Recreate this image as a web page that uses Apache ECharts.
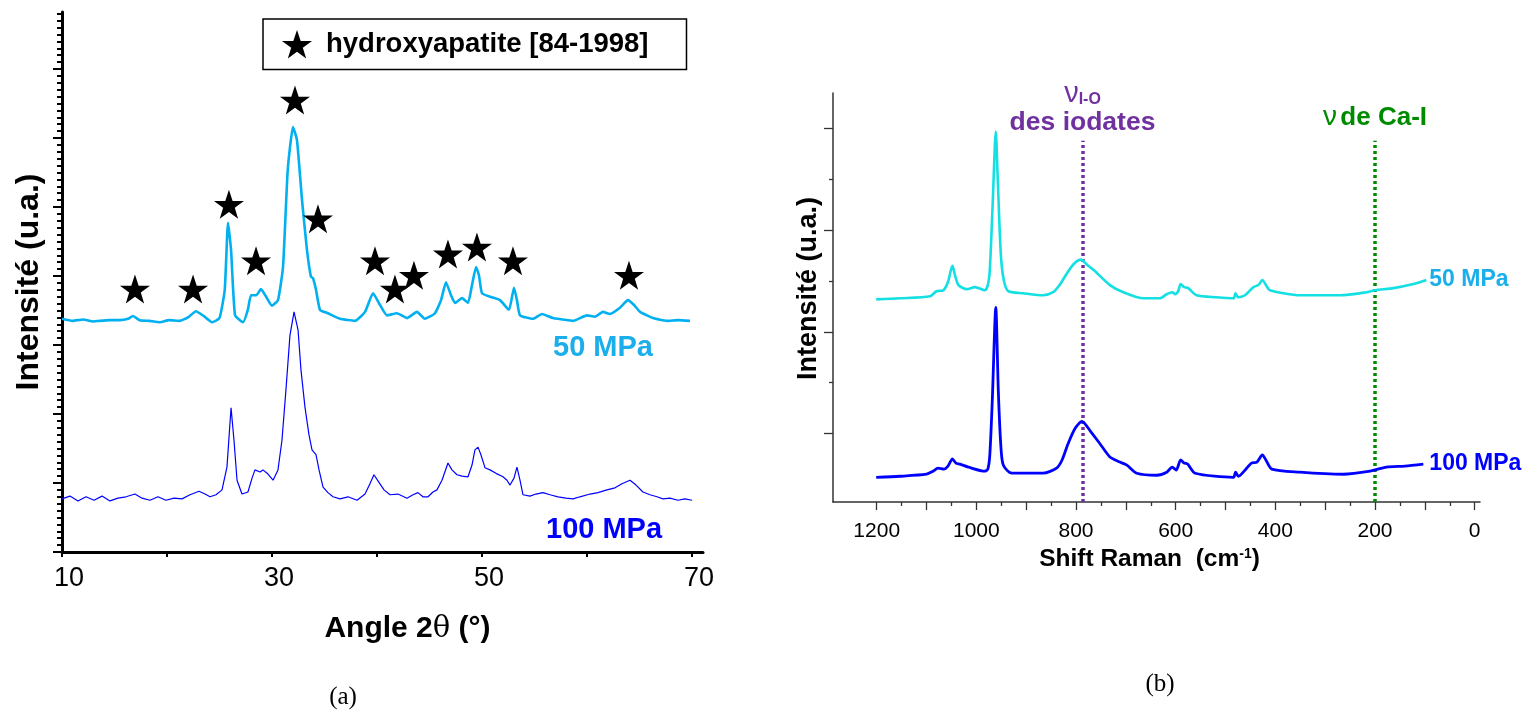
<!DOCTYPE html>
<html><head><meta charset="utf-8">
<script src="https://cdn.jsdelivr.net/npm/echarts@6/dist/echarts.min.js"></script>
<style>html,body{margin:0;padding:0;background:#fff}#c{width:1526px;height:715px}</style>
</head><body><div id="c"></div>
<script>
// ---------- (a) XRD data ----------
const xrd50Angle = [10.0,11.0,12.0,13.0,13.6,14.5,15.5,16.3,16.76,17.4,18.3,19.3,20.2,21.2,22.0,22.76,23.5,24.29,25.0,25.5,25.81,26.1,26.48,27.24,27.7,28.0,28.5,28.95,29.4,30.0,30.57,31.05,31.5,32.0,32.38,32.86,33.33,33.71,33.9,34.19,34.57,35.33,36.48,37.9,38.86,39.62,40.29,40.95,41.9,42.86,43.81,44.57,45.52,46.1,46.57,47.05,47.43,48.1,48.67,49.05,49.43,49.71,50.0,50.76,51.71,52.57,53.05,53.33,53.62,54.86,55.71,56.76,57.7,58.67,60.0,60.76,61.52,62.19,63.14,63.9,64.48,65.05,66.29,67.62,68.7,69.81];
const xrd50Int = [3.38,3.35,3.37,3.34,3.35,3.36,3.36,3.38,3.42,3.36,3.35,3.33,3.36,3.35,3.40,3.49,3.42,3.33,3.39,3.80,4.77,4.38,3.43,3.33,3.51,3.72,3.72,3.81,3.71,3.57,3.65,4.13,5.54,6.16,5.97,5.10,4.38,3.99,3.97,3.80,3.51,3.46,3.38,3.35,3.48,3.75,3.58,3.43,3.46,3.39,3.48,3.38,3.46,3.65,3.91,3.72,3.61,3.68,3.61,3.87,4.13,4.01,3.75,3.70,3.65,3.51,3.83,3.65,3.43,3.38,3.45,3.39,3.37,3.35,3.43,3.41,3.48,3.45,3.54,3.65,3.58,3.48,3.39,3.35,3.36,3.35];
const xrd100Angle = [10.0,10.76,11.52,12.29,13.05,13.81,14.57,15.33,16.1,16.95,17.62,18.38,19.14,19.9,20.67,21.43,22.19,23.05,23.62,24.1,24.67,25.24,25.71,26.1,26.38,26.67,27.14,27.71,28.1,28.38,28.86,29.14,29.62,30.1,30.57,30.95,31.33,31.71,32.1,32.48,32.76,33.14,33.52,33.81,34.19,34.48,34.86,35.33,35.81,36.48,37.24,38.1,38.86,39.33,39.71,40.19,40.67,41.24,42.0,42.86,43.43,43.9,44.38,44.86,45.33,45.71,46.19,46.76,47.14,47.62,48.1,48.67,49.05,49.33,49.62,49.9,50.29,50.76,51.33,52.0,52.38,52.67,53.05,53.33,53.62,53.9,54.57,55.14,55.81,56.48,57.24,58.0,58.67,59.33,60.29,61.05,61.9,62.67,63.33,64.1,64.67,65.33,66.0,66.67,67.24,67.9,68.67,69.33,70.0];
const xrd100Int = [0.77,0.81,0.74,0.80,0.75,0.81,0.74,0.78,0.80,0.84,0.78,0.75,0.80,0.75,0.78,0.77,0.83,0.88,0.84,0.80,0.83,0.90,1.23,2.09,1.62,1.04,0.84,0.87,1.07,1.19,1.16,1.19,1.13,1.04,1.19,1.62,2.35,3.14,3.48,3.22,2.64,2.10,1.70,1.48,1.41,1.19,0.94,0.86,0.80,0.77,0.80,0.75,0.84,0.99,1.12,1.01,0.90,0.83,0.84,0.78,0.83,0.86,0.80,0.80,0.87,0.90,1.04,1.29,1.19,1.12,1.10,1.09,1.26,1.48,1.52,1.41,1.22,1.19,1.14,1.09,1.04,0.97,1.07,1.23,1.04,0.83,0.81,0.84,0.86,0.83,0.80,0.78,0.77,0.80,0.84,0.86,0.90,0.93,0.99,1.04,0.97,0.87,0.83,0.80,0.77,0.78,0.75,0.77,0.75];
const starAngle = [16.95,22.48,25.90,28.48,32.19,34.38,39.81,41.71,43.52,46.76,49.52,52.95,64.0];
const starInt = [3.81,3.81,5.04,4.22,6.55,4.83,4.22,3.81,4.01,4.32,4.42,4.22,4.01];
const xrdTickValues = [10,20,30,40,50,60,70];
const xrdTickLabels = [10,30,50,70];
const xrdYMajor = [0,1,2,3,4,5,6,7];

// ---------- (b) Raman data ----------
const raman50Shift = [1201,1153,1093,1080,1066,1057,1048,1043,1036,1019,1003,983,977,973,967,961,957,951,945,936,906,866,846,833,819,804,790,778,765,732,705,665,651,632,618,607,601,595,590,583,575,558,518,484,480,475,461,444,434,426,419,411,350,270,217,200,163,123,97];
const raman50Int = [2.32,2.33,2.35,2.40,2.41,2.49,2.65,2.56,2.46,2.42,2.44,2.41,2.46,2.61,3.29,3.97,3.49,2.77,2.51,2.40,2.38,2.36,2.39,2.46,2.57,2.67,2.71,2.66,2.61,2.46,2.39,2.33,2.33,2.33,2.37,2.39,2.37,2.40,2.47,2.44,2.43,2.36,2.34,2.33,2.38,2.34,2.36,2.44,2.46,2.51,2.46,2.41,2.36,2.36,2.39,2.41,2.43,2.47,2.51];
const raman100Shift = [1201,1153,1100,1087,1077,1065,1057,1048,1041,1033,1016,983,977,973,968,961,956,951,946,929,866,839,828,816,802,788,772,752,732,712,698,678,638,618,607,599,590,583,576,561,484,480,474,461,448,437,426,419,407,351,264,210,177,140,103];
const raman100Int = [0.57,0.58,0.60,0.63,0.66,0.65,0.68,0.75,0.71,0.70,0.67,0.63,0.65,0.79,1.33,2.24,1.43,0.89,0.69,0.61,0.61,0.66,0.74,0.90,1.05,1.12,1.03,0.90,0.77,0.72,0.69,0.61,0.59,0.62,0.67,0.64,0.74,0.71,0.70,0.61,0.57,0.62,0.58,0.64,0.71,0.72,0.79,0.74,0.65,0.62,0.60,0.63,0.67,0.68,0.70];
const ramanTickValues = [0,100,200,300,400,500,600,700,800,900,1000,1100,1200];
const ramanMinorTicks = [50,150,250,350,450,550,650,750,850,950,1050,1150];
const ramanTickLabels = [0,200,400,600,800,1000,1200];
const ramanYMajor = [1,2,3,4];
const ramanYMinor = [1.5,2.5,3.5];
const iodateShift = 787, caIShift = 200, markTop = 3.88;

const FF = '"Liberation Sans", Arial, Helvetica, sans-serif';
const STAR = 'path://M50,0 L61.8,35.1 L98.1,35.1 L68.7,56.7 L79.4,91.3 L50,70 L20.6,91.3 L31.3,56.7 L1.9,35.1 L38.2,35.1 Z';
const zip = (a, b) => a.map((v, i) => [v, b[i]]);
const xrdYMinor = [];
for (let i = 1; i < 79; i++) if (i % 10) xrdYMinor.push(i / 10);

const XMIN_A = 10, XMAX_A = 71.05, YMIN_A = 0, YMAX_A = 7.826;
const XMIN_B = -10.7, XMAX_B = 1287.7, YMIN_B = 0.327, YMAX_B = 4.349;

const chart = echarts.init(document.getElementById('c'), null, {renderer: 'canvas'});
const noLine = {show: false};
const hiddenAxisLine = {show: false, onZero: false};
chart.setOption({
  animation: false,
  backgroundColor: '#fff',
  textStyle: {fontFamily: FF},
  grid: [
    {left: 62, top: 12, width: 641, height: 540},
    {left: 833, top: 93, width: 647, height: 409}
  ],
  legend: {
    left: 263, top: 19, selectedMode: false,
    data: [{name: 'hydroxyapatite [84-1998]', icon: STAR}],
    itemWidth: 30, itemHeight: 29,
    padding: [11, 38, 11, 19],
    borderColor: '#000', borderWidth: 1.5,
    textStyle: {fontSize: 27.5, fontWeight: 'bold', color: '#000', fontFamily: FF, padding: [0, 0, 0, 9]}
  },
  xAxis: [
    {gridIndex: 0, type: 'value', position: 'bottom', min: XMIN_A, max: XMAX_A,
      axisLine: {onZero: false, lineStyle: {color: '#000', width: 3}},
      axisTick: {customValues: xrdTickValues, length: 5, lineStyle: {color: '#000', width: 2}},
      axisLabel: {customValues: xrdTickLabels, fontSize: 27, color: '#000', fontFamily: FF, margin: 13, padding: [0, 0, 0, 14]},
      splitLine: noLine,
      name: '{b|Angle 2}{t|θ}{b| (°)}', nameLocation: 'middle', nameGap: 62,
      nameTextStyle: {padding: [0, 0, 0, 50], rich: {
        b: {fontSize: 30, fontWeight: 'bold', color: '#000', fontFamily: FF},
        t: {fontSize: 29, fontWeight: 'normal', color: '#000', fontFamily: '"DejaVu Serif", serif'}
      }}
    },
    {gridIndex: 1, type: 'value', position: 'bottom', inverse: true, min: XMIN_B, max: XMAX_B,
      axisLine: {onZero: false, lineStyle: {color: '#333', width: 1.5}},
      axisTick: {customValues: ramanTickValues, length: 8, lineStyle: {color: '#333', width: 1.3}},
      axisLabel: {customValues: ramanTickLabels, formatter: v => String(v), fontSize: 21, color: '#000', fontFamily: FF, margin: 19},
      splitLine: noLine,
      name: '{a|Shift Raman  (cm}{s|-1}{a|)}', nameLocation: 'middle', nameGap: 42,
      nameTextStyle: {padding: [0, 14, 0, 0], rich: {
        a: {fontSize: 24.5, fontWeight: 'bold', color: '#000', fontFamily: FF},
        s: {fontSize: 14, fontWeight: 'bold', color: '#000', fontFamily: FF, padding: [0, 0, 10, 0]}
      }}
    },
    {gridIndex: 1, type: 'value', position: 'bottom', inverse: true, min: XMIN_B, max: XMAX_B,
      axisLine: hiddenAxisLine, axisLabel: noLine, splitLine: noLine,
      axisTick: {customValues: ramanMinorTicks, length: 4, lineStyle: {color: '#333', width: 1.3}}
    }
  ],
  yAxis: [
    {gridIndex: 0, type: 'value', position: 'left', min: YMIN_A, max: YMAX_A,
      axisLine: {onZero: false, lineStyle: {color: '#000', width: 3}},
      axisTick: {customValues: xrdYMajor, length: 9, lineStyle: {color: '#000', width: 2}},
      axisLabel: {show: false}, splitLine: noLine,
      name: 'Intensité (u.a.)', nameLocation: 'middle', nameGap: 17, nameRotate: 90,
      nameTextStyle: {fontSize: 32, fontWeight: 'bold', color: '#000', fontFamily: FF}
    },
    {gridIndex: 0, type: 'value', position: 'left', offset: 0, min: YMIN_A, max: YMAX_A,
      axisLine: hiddenAxisLine, axisLabel: noLine, splitLine: noLine,
      axisTick: {customValues: xrdYMinor, length: 5, lineStyle: {color: '#000', width: 2}}
    },
    {gridIndex: 1, type: 'value', position: 'left', offset: 0, min: YMIN_B, max: YMAX_B,
      axisLine: hiddenAxisLine, axisLabel: noLine, splitLine: noLine,
      axisTick: {customValues: ramanYMinor, length: 4, lineStyle: {color: '#333', width: 1.3}}
    },
    {gridIndex: 1, type: 'value', position: 'left', min: YMIN_B, max: YMAX_B,
      axisLine: {onZero: false, lineStyle: {color: '#333', width: 1.5}},
      axisTick: {customValues: ramanYMajor, length: 9, lineStyle: {color: '#333', width: 1.3}},
      axisLabel: {show: false}, splitLine: noLine,
      name: 'Intensité (u.a.)', nameLocation: 'middle', nameGap: 11, nameRotate: 90,
      nameTextStyle: {fontSize: 27, fontWeight: 'bold', color: '#000', fontFamily: FF, padding: [0, 0, 0, 18]}
    }
  ],
  series: [
    {type: 'line', name: '50 MPa (a)', xAxisIndex: 0, yAxisIndex: 0, data: zip(xrd50Angle, xrd50Int),
      showSymbol: false, smooth: 0.15, lineStyle: {color: '#00B0F0', width: 2.6}, itemStyle: {color: '#00B0F0'}, z: 3},
    {type: 'line', name: '100 MPa (a)', xAxisIndex: 0, yAxisIndex: 0, data: zip(xrd100Angle, xrd100Int),
      showSymbol: false, lineStyle: {color: '#0000FF', width: 1.2}, itemStyle: {color: '#0000FF'}, z: 3},
    {type: 'scatter', name: 'hydroxyapatite [84-1998]', xAxisIndex: 0, yAxisIndex: 0, data: zip(starAngle, starInt),
      symbol: STAR, symbolSize: [30, 29], itemStyle: {color: '#000', opacity: 1}, z: 5},
    {type: 'line', name: '50 MPa (b)', xAxisIndex: 1, yAxisIndex: 3, data: zip(raman50Shift, raman50Int),
      showSymbol: false, smooth: 0.25, lineStyle: {color: '#14E0E4', width: 2.6}, itemStyle: {color: '#14E0E4'},
      endLabel: {show: true, formatter: '50 MPa', align: 'left', distance: 0, offset: [3, 0], color: '#1AAEEB', fontSize: 23, fontWeight: 'bold', fontFamily: FF}, z: 3},
    {type: 'line', name: '100 MPa (b)', xAxisIndex: 1, yAxisIndex: 3, data: zip(raman100Shift, raman100Int),
      showSymbol: false, smooth: 0.25, lineStyle: {color: '#0000FF', width: 2.8}, itemStyle: {color: '#0000FF'},
      endLabel: {show: true, formatter: '100 MPa', align: 'left', distance: 0, offset: [6, 0], color: '#0000FF', fontSize: 23, fontWeight: 'bold', fontFamily: FF}, z: 3,
      markLine: {
        silent: true, symbol: ['none', 'none'], z: 2,
        data: [
          [{coord: [iodateShift, YMIN_B],
            lineStyle: {color: '#7030A0', type: [3, 3], width: 3.5},
            label: {show: true, position: 'end', distance: 4,
              formatter: '{nu|ν}{sub|I-O}\n{d|des iodates}',
              rich: {
                nu: {fontSize: 29, color: '#7030A0', fontFamily: FF, lineHeight: 30},
                sub: {fontSize: 16, fontWeight: 'bold', color: '#7030A0', fontFamily: FF, padding: [12, 0, 0, 0]},
                d: {fontSize: 26.5, fontWeight: 'bold', color: '#7030A0', fontFamily: FF, lineHeight: 28}
              }}},
           {coord: [iodateShift, markTop]}],
          [{coord: [caIShift, YMIN_B],
            lineStyle: {color: '#008A00', type: [3, 3], width: 3.5},
            label: {show: true, position: 'end', distance: 9,
              formatter: '{nu|ν} {g|de Ca-I}',
              rich: {
                nu: {fontSize: 28, color: '#008A00', fontFamily: FF},
                g: {fontSize: 26, fontWeight: 'bold', color: '#008A00', fontFamily: FF}
              }}},
           {coord: [caIShift, markTop]}]
        ]
      }}
  ],
  graphic: [
    {type: 'text', x: 553, y: 348, style: {text: '50 MPa', fill: '#1AAEEB', font: 'bold 29px ' + FF, align: 'left', verticalAlign: 'middle'}},
    {type: 'text', x: 546, y: 530, style: {text: '100 MPa', fill: '#0000FF', font: 'bold 29px ' + FF, align: 'left', verticalAlign: 'middle'}},
    {type: 'text', x: 343, y: 697, style: {text: '(a)', fill: '#000', font: '25px "Liberation Serif", "Times New Roman", serif', align: 'center', verticalAlign: 'middle'}},
    {type: 'text', x: 1160, y: 684, style: {text: '(b)', fill: '#000', font: '25px "Liberation Serif", "Times New Roman", serif', align: 'center', verticalAlign: 'middle'}}
  ]
});
</script>
</body></html>
